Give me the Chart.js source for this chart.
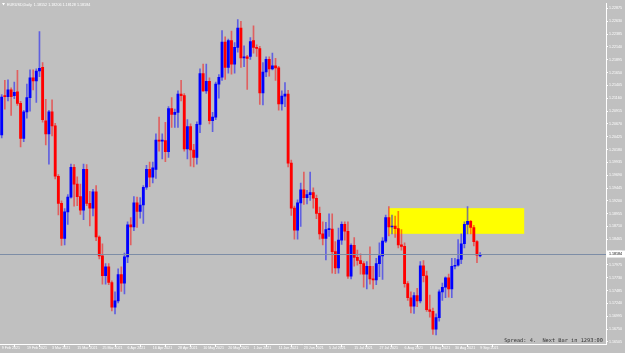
<!DOCTYPE html>
<html>
<head>
<meta charset="utf-8">
<script src="https://cdn.jsdelivr.net/npm/chart.js@4.4.1/dist/chart.umd.min.js"></script>
<style>
  html, body { margin: 0; padding: 0; background: #c0c0c0; }
  canvas { display: block; }
</style>
</head>
<body>
<canvas id="chart" width="625" height="353"></canvas>
<script>
// EURUSD daily bars, 9 Feb 2021 (index 0) .. 9 Sep 2021 (index 152)
const opens = [
  1.2046, 1.2121, 1.2119, 1.2132, 1.2121, 1.2128, 1.2106, 1.2039, 1.2090, 1.2117,
  1.2155, 1.2149, 1.2168, 1.2175, 1.2073, 1.2048, 1.2090, 1.2063, 1.1967, 1.1915,
  1.1848, 1.1899, 1.1927, 1.1984, 1.1952, 1.1928, 1.1902, 1.1980, 1.1915, 1.1906,
  1.1937, 1.1851, 1.1815, 1.1777, 1.1794, 1.1764, 1.1717, 1.1729, 1.1779, 1.1763,
  1.1813, 1.1874, 1.1870, 1.1916, 1.1900, 1.1912, 1.1946, 1.1980, 1.1965, 1.1980,
  1.2036, 1.2034, 1.2035, 1.2014, 1.2096, 1.2085, 1.2089, 1.2124, 1.2121, 1.2019,
  1.2062, 1.2017, 1.2003, 1.2066, 1.2163, 1.2130, 1.2148, 1.2073, 1.2080, 1.2143,
  1.2156, 1.2223, 1.2175, 1.2226, 1.2181, 1.2213, 1.2250, 1.2193, 1.2195, 1.2196,
  1.2226, 1.2213, 1.2211, 1.2126, 1.2166, 1.2190, 1.2172, 1.2178, 1.2174, 1.2105,
  1.2120, 1.2124, 1.1992, 1.1906, 1.1864, 1.1916, 1.1941, 1.1926, 1.1932, 1.1936,
  1.1925, 1.1896, 1.1857, 1.1848, 1.1865, 1.1866, 1.1823, 1.1792, 1.1845, 1.1875,
  1.1862, 1.1776, 1.1835, 1.1812, 1.1806, 1.1800, 1.1780, 1.1795, 1.1771, 1.1769,
  1.1800, 1.1815, 1.1843, 1.1888, 1.1870, 1.1872, 1.1867, 1.1836, 1.1833, 1.1762,
  1.1735, 1.1719, 1.1739, 1.1729, 1.1796, 1.1777, 1.1712, 1.1709, 1.1675, 1.1697,
  1.1746, 1.1755, 1.1773, 1.1752, 1.1795, 1.1797, 1.1808, 1.1838, 1.1875, 1.1881,
  1.1869, 1.1842, 1.1815
];
const highs = [
  1.2123, 1.2150, 1.2151, 1.2136, 1.2147, 1.2169, 1.2110, 1.2093, 1.2143, 1.2170,
  1.2170, 1.2172, 1.2243, 1.2184, 1.2114, 1.2093, 1.2113, 1.2068, 1.1970, 1.1920,
  1.1905, 1.1932, 1.1990, 1.1989, 1.1966, 1.1952, 1.1990, 1.1989, 1.1938, 1.1942,
  1.1949, 1.1853, 1.1838, 1.1800, 1.1800, 1.1767, 1.1746, 1.1790, 1.1794, 1.1820,
  1.1880, 1.1888, 1.1928, 1.1927, 1.1926, 1.1949, 1.1988, 1.1994, 1.1994, 1.2048,
  1.2080, 1.2048, 1.2070, 1.2100, 1.2117, 1.2095, 1.2130, 1.2150, 1.2125, 1.2075,
  1.2067, 1.2028, 1.2071, 1.2172, 1.2181, 1.2181, 1.2155, 1.2089, 1.2147, 1.2161,
  1.2245, 1.2233, 1.2229, 1.2244, 1.2222, 1.2266, 1.2263, 1.2216, 1.2198, 1.2232,
  1.2254, 1.2218, 1.2215, 1.2184, 1.2195, 1.2195, 1.2202, 1.2192, 1.2177, 1.2130,
  1.2146, 1.2131, 1.1998, 1.1910, 1.1922, 1.1954, 1.1975, 1.1940, 1.1975, 1.1945,
  1.1931, 1.1908, 1.1880, 1.1879, 1.1895, 1.1895, 1.1842, 1.1868, 1.1880, 1.1880,
  1.1880, 1.1838, 1.1850, 1.1826, 1.1819, 1.1804, 1.1804, 1.1832, 1.1795, 1.1810,
  1.1840, 1.1850, 1.1893, 1.1909, 1.1893, 1.1891, 1.1900, 1.1865, 1.1840, 1.1766,
  1.1746, 1.1745, 1.1753, 1.1804, 1.1806, 1.1786, 1.1740, 1.1715, 1.1704, 1.1750,
  1.1763, 1.1775, 1.1780, 1.1810, 1.1810, 1.1846, 1.1857, 1.1880, 1.1909, 1.1883,
  1.1873, 1.1844, 1.1821
];
const lows = [
  1.2040, 1.2095, 1.2111, 1.2083, 1.2115, 1.2102, 1.2023, 1.2033, 1.2078, 1.2091,
  1.2132, 1.2108, 1.2157, 1.2070, 1.2027, 1.1990, 1.2044, 1.1962, 1.1893, 1.1835,
  1.1836, 1.1875, 1.1925, 1.1910, 1.1911, 1.1894, 1.1884, 1.1911, 1.1872, 1.1891,
  1.1844, 1.1809, 1.1761, 1.1761, 1.1760, 1.1710, 1.1704, 1.1725, 1.1747, 1.1742,
  1.1802, 1.1836, 1.1863, 1.1869, 1.1887, 1.1877, 1.1942, 1.1947, 1.1954, 1.1963,
  1.2015, 1.2000, 1.1995, 1.2003, 1.2060, 1.2060, 1.2060, 1.2111, 1.2015, 1.2000,
  1.1986, 1.1985, 1.1990, 1.2050, 1.2129, 1.2125, 1.2067, 1.2052, 1.2075, 1.2116,
  1.2150, 1.2152, 1.2164, 1.2162, 1.2164, 1.2204, 1.2175, 1.2176, 1.2133, 1.2190,
  1.2202, 1.2196, 1.2104, 1.2103, 1.2157, 1.2158, 1.2170, 1.2150, 1.2093, 1.2093,
  1.2100, 1.1985, 1.1892, 1.1847, 1.1847, 1.1871, 1.1913, 1.1914, 1.1921, 1.1906,
  1.1886, 1.1847, 1.1836, 1.1807, 1.1852, 1.1782, 1.1781, 1.1782, 1.1837, 1.1845,
  1.1772, 1.1771, 1.1795, 1.1797, 1.1780, 1.1755, 1.1752, 1.1761, 1.1752, 1.1760,
  1.1775, 1.1770, 1.1840, 1.1853, 1.1857, 1.1850, 1.1830, 1.1826, 1.1755, 1.1730,
  1.1706, 1.1705, 1.1718, 1.1725, 1.1765, 1.1709, 1.1698, 1.1665, 1.1664, 1.1690,
  1.1730, 1.1735, 1.1736, 1.1735, 1.1790, 1.1795, 1.1800, 1.1830, 1.1857, 1.1857,
  1.1834, 1.1802, 1.1813
];
const closes = [
  1.2118, 1.2119, 1.2132, 1.2119, 1.2127, 1.2106, 1.2039, 1.2090, 1.2117, 1.2155,
  1.2149, 1.2168, 1.2173, 1.2075, 1.2048, 1.2090, 1.2063, 1.1967, 1.1915, 1.1848,
  1.1899, 1.1927, 1.1984, 1.1952, 1.1928, 1.1902, 1.1980, 1.1915, 1.1906, 1.1937,
  1.1851, 1.1815, 1.1777, 1.1794, 1.1764, 1.1717, 1.1729, 1.1779, 1.1763, 1.1813,
  1.1874, 1.1870, 1.1916, 1.1900, 1.1912, 1.1946, 1.1980, 1.1965, 1.1983, 1.2036,
  1.2034, 1.2035, 1.2014, 1.2096, 1.2085, 1.2089, 1.2124, 1.2121, 1.2019, 1.2062,
  1.2017, 1.2003, 1.2066, 1.2163, 1.2130, 1.2148, 1.2073, 1.2080, 1.2143, 1.2156,
  1.2223, 1.2175, 1.2226, 1.2181, 1.2213, 1.2250, 1.2193, 1.2194, 1.2192, 1.2224,
  1.2213, 1.2211, 1.2126, 1.2166, 1.2190, 1.2172, 1.2178, 1.2174, 1.2105, 1.2120,
  1.2124, 1.1992, 1.1906, 1.1864, 1.1916, 1.1941, 1.1926, 1.1932, 1.1936, 1.1925,
  1.1896, 1.1857, 1.1848, 1.1865, 1.1866, 1.1823, 1.1792, 1.1845, 1.1875, 1.1862,
  1.1776, 1.1835, 1.1812, 1.1806, 1.1800, 1.1780, 1.1795, 1.1771, 1.1769, 1.1800,
  1.1815, 1.1843, 1.1888, 1.1870, 1.1872, 1.1867, 1.1836, 1.1833, 1.1762, 1.1735,
  1.1719, 1.1739, 1.1729, 1.1796, 1.1777, 1.1712, 1.1709, 1.1675, 1.1697, 1.1746,
  1.1755, 1.1773, 1.1752, 1.1795, 1.1797, 1.1808, 1.1838, 1.1875, 1.1881, 1.1869,
  1.1842, 1.1816, 1.1818
];

// one date label every 8 bars
const xTickLabels = [
  "9 Feb 2021", "19 Feb 2021", "3 Mar 2021", "15 Mar 2021", "25 Mar 2021",
  "6 Apr 2021", "16 Apr 2021", "28 Apr 2021", "10 May 2021", "20 May 2021",
  "1 Jun 2021", "11 Jun 2021", "23 Jun 2021", "5 Jul 2021", "15 Jul 2021",
  "27 Jul 2021", "6 Aug 2021", "18 Aug 2021", "30 Aug 2021", "9 Sep 2021"
];
const xTickEvery = 8;

const yTickValues = [
  1.22875, 1.22630, 1.22385, 1.22140, 1.21895, 1.21650, 1.21405, 1.21160, 1.20915,
  1.20670, 1.20425, 1.20180, 1.19935, 1.19690, 1.19445, 1.19200, 1.18955, 1.18710,
  1.18465, 1.18220, 1.17975, 1.17730, 1.17485, 1.17240, 1.16995, 1.16750, 1.16505
];

const bidPrice = 1.18184;
const headerText = "EURUSD,Daily  1.18152 1.18206 1.18128 1.18184";
const footerText = "Spread: 4.  Next Bar in 1293:00";

// yellow zone (bar index / price)
const zoneStart = 123, zoneEnd = 166;
const zoneTop = 1.1906, zoneBottom = 1.1857;

// visible window
const xMin = -0.54, xMax = 191.99;
const yMin = 1.16466, yMax = 1.22975;

const UP = "#0000ff", DOWN = "#ff0000";
const isUp = opens.map((o, i) => closes[i] >= o);

const bodies = opens.map((o, i) => ({ x: i, y: [o, closes[i]] }));
const wicks = highs.map((h, i) => ({ x: i, y: [lows[i], h] }));

const tickFont = { family: "'Liberation Sans', Arial, sans-serif", size: 3.6 };

const background = {
  id: "background",
  beforeDraw(chart) {
    const ctx = chart.ctx;
    ctx.save();
    ctx.fillStyle = "#c0c0c0";
    ctx.fillRect(0, 0, chart.width, chart.height);
    ctx.restore();
  }
};

const zoneBox = {
  id: "zoneBox",
  beforeDatasetsDraw(chart) {
    const { ctx, scales: { x, y } } = chart;
    const l = x.getPixelForValue(zoneStart), r = x.getPixelForValue(zoneEnd);
    const t = y.getPixelForValue(zoneTop), b = y.getPixelForValue(zoneBottom);
    ctx.save();
    ctx.fillStyle = "#ffff00";
    ctx.fillRect(l, t, r - l, b - t);
    ctx.restore();
  }
};

const terminalBits = {
  id: "terminalBits",
  afterDatasetsDraw(chart) {
    const { ctx, chartArea, scales: { y } } = chart;
    const py = Math.round(y.getPixelForValue(bidPrice)) + 0.5;
    ctx.save();
    // bid line
    ctx.strokeStyle = "#7d8da6";
    ctx.lineWidth = 1;
    ctx.beginPath();
    ctx.moveTo(chartArea.left, py);
    ctx.lineTo(chartArea.right, py);
    ctx.stroke();
    ctx.restore();
  },
  afterDraw(chart) {
    const { ctx, chartArea, scales: { y } } = chart;
    const py = y.getPixelForValue(bidPrice);
    ctx.save();
    // price box on the axis
    ctx.fillStyle = "#ffffff";
    ctx.fillRect(chartArea.right + 1, py - 3.5, chart.width - chartArea.right - 1, 7);
    ctx.fillStyle = "#000000";
    ctx.font = "3.6px 'Liberation Sans', Arial, sans-serif";
    ctx.textBaseline = "middle";
    ctx.textAlign = "left";
    ctx.fillText(bidPrice.toFixed(5), chartArea.right + 3, py);

    // header
    ctx.fillStyle = "#ffffff";
    ctx.beginPath();
    ctx.moveTo(2, 3); ctx.lineTo(5, 3); ctx.lineTo(3.5, 5.5); ctx.closePath();
    ctx.fill();
    ctx.font = "3.7px 'Liberation Sans', Arial, sans-serif";
    ctx.fillText(headerText, 7, 4.5);

    // footer
    ctx.fillStyle = "#333333";
    ctx.font = "5.3px 'DejaVu Sans Mono', 'Liberation Mono', monospace";
    ctx.textAlign = "right";
    ctx.fillText(footerText, chartArea.right - 3, chartArea.bottom - 3);
    ctx.restore();
  }
};

new Chart(document.getElementById("chart"), {
  type: "bar",
  data: {
    datasets: [
      {
        label: "body",
        data: bodies,
        backgroundColor: isUp.map(u => (u ? UP : DOWN)),
        barThickness: 2.2,
        minBarLength: 1,
        grouped: false
      },
      {
        label: "wick",
        data: wicks,
        backgroundColor: isUp.map(u => (u ? "rgba(0,0,255,0.5)" : "rgba(255,0,0,0.5)")),
        barThickness: 1,
        grouped: false
      }
    ]
  },
  options: {
    responsive: false,
    animation: false,
    devicePixelRatio: 1,
    events: [],
    layout: { padding: 0 },
    plugins: { legend: { display: false }, tooltip: { enabled: false } },
    scales: {
      x: {
        type: "linear",
        min: xMin,
        max: xMax,
        offset: false,
        afterFit: s => { s.height = 9; },
        afterBuildTicks: s => {
          s.ticks = xTickLabels.map((_, k) => ({ value: k * xTickEvery }));
        },
        grid: { drawOnChartArea: false, drawTicks: true, tickLength: 3, tickColor: "#ffffff" },
        border: { display: true, color: "#ffffff" },
        ticks: {
          autoSkip: false,
          maxRotation: 0,
          minRotation: 0,
          align: "start",
          padding: -1,
          color: "#ffffff",
          font: tickFont,
          callback: v => xTickLabels[Math.round(v / xTickEvery)]
        }
      },
      y: {
        position: "right",
        min: yMin,
        max: yMax,
        afterFit: s => { s.width = 19; },
        afterBuildTicks: s => {
          s.ticks = yTickValues.map(v => ({ value: v }));
        },
        grid: { drawOnChartArea: false, drawTicks: true, tickLength: 2, tickColor: "#ffffff" },
        border: { display: true, color: "#ffffff" },
        ticks: {
          padding: 1,
          color: "#ffffff",
          font: tickFont,
          callback: v => v.toFixed(5)
        }
      }
    }
  },
  plugins: [background, zoneBox, terminalBits]
});
</script>
</body>
</html>
